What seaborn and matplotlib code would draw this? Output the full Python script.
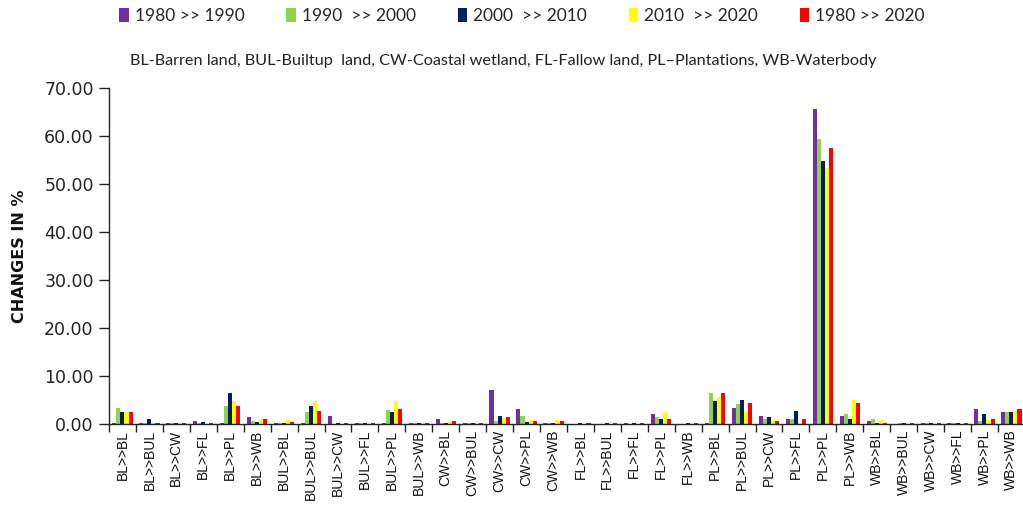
import numpy as np
import pandas as pd
import seaborn as sns
import matplotlib.pyplot as plt
from matplotlib.patches import Patch
from matplotlib.ticker import FixedLocator, FormatStrFormatter

# Land-cover transitions (from >> to)
transitions = [
    "BL>>BL", "BL>>BUL", "BL>>CW", "BL>>FL", "BL>>PL", "BL>>WB",
    "BUL>>BL", "BUL>>BUL", "BUL>>CW", "BUL>>FL", "BUL>>PL", "BUL>>WB",
    "CW>>BL", "CW>>BUL", "CW>>CW", "CW>>PL", "CW>>WB",
    "FL>>BL", "FL>>BUL", "FL>>FL", "FL>>PL", "FL>>WB",
    "PL>>BL", "PL>>BUL", "PL>>CW", "PL>>FL", "PL>>PL", "PL>>WB",
    "WB>>BL", "WB>>BUL", "WB>>CW", "WB>>FL", "WB>>PL", "WB>>WB",
]

periods = ["1980 >> 1990", "1990  >> 2000", "2000  >> 2010", "2010  >> 2020", "1980 >> 2020"]

# Share of area changed (%) per period
chg_1980_1990 = [0.2, 0.3, 0.3, 0.7, 0.2, 1.4, 0.2, 0.2, 1.7, 0.2, 0.2, 0.2,
                 1.0, 0.2, 7.1, 3.05, 0.2, 0.1, 0.1, 0.2, 2.1, 0.1,
                 0.3, 3.3, 1.7, 1.0, 65.6, 1.7, 0.7, 0.1, 0.2, 0.2, 3.05, 2.6]
chg_1990_2000 = [3.3, 0.3, 0.2, 0.2, 3.7, 0.7, 0.2, 2.6, 0.1, 0.2, 3.0, 0.2,
                 0.2, 0.2, 0.7, 1.7, 0.2, 0.1, 0.1, 0.1, 1.4, 0.1,
                 6.4, 4.2, 1.0, 1.0, 59.4, 2.1, 1.0, 0.2, 0.2, 0.2, 0.7, 2.6]
chg_2000_2010 = [2.6, 1.0, 0.3, 0.4, 6.4, 0.35, 0.3, 3.75, 0.3, 0.3, 2.6, 0.3,
                 0.3, 0.3, 1.7, 0.35, 0.3, 0.2, 0.2, 0.2, 1.0, 0.2,
                 4.7, 5.0, 1.4, 2.8, 54.7, 1.0, 0.3, 0.3, 0.3, 0.3, 2.1, 2.4]
chg_2010_2020 = [2.6, 0.3, 0.2, 0.1, 4.7, 1.0, 0.8, 4.7, 0.1, 0.1, 4.7, 0.2,
                 0.6, 0.2, 1.3, 0.8, 0.8, 0.1, 0.1, 0.1, 2.4, 0.1,
                 5.7, 2.4, 0.8, 0.3, 53.3, 4.9, 0.8, 0.1, 0.1, 0.1, 0.8, 2.8]
chg_1980_2020 = [2.6, 0.3, 0.3, 0.2, 3.7, 1.0, 0.35, 2.8, 0.3, 0.3, 3.05, 0.3,
                 0.6, 0.3, 1.4, 0.7, 0.7, 0.2, 0.2, 0.2, 1.0, 0.2,
                 6.4, 4.4, 0.7, 1.0, 57.4, 4.4, 0.3, 0.3, 0.3, 0.3, 1.0, 3.05]

colors = ["#7030A0", "#92D050", "#002060", "#FFFF00", "#FF0000"]

series = [chg_1980_1990, chg_1990_2000, chg_2000_2010, chg_2010_2020, chg_1980_2020]
df = pd.DataFrame({
    "transition": np.tile(transitions, len(periods)),
    "period": np.repeat(periods, len(transitions)),
    "change": np.concatenate(series),
})

sns.set_style("ticks")
plt.rcParams["font.family"] = ["DejaVu Sans"]

fig = plt.figure(figsize=(10.23, 5.22), dpi=100)
ax = fig.add_axes([109 / 1023, 98 / 522, (1023 - 109) / 1023, (424 - 88) / 522])

sns.barplot(data=df, x="transition", y="change", hue="period",
            order=transitions, hue_order=periods, palette=colors,
            width=0.75, saturation=1, linewidth=0, legend=False, ax=ax)

ax.set_xlim(-0.5, 33.43)
ax.set_ylim(0, 70)
ax.set_yticks(np.arange(0, 71, 10))
ax.yaxis.set_major_formatter(FormatStrFormatter("%.2f"))
ax.tick_params(axis="y", direction="out", length=7, width=1, colors="#222222",
               labelsize=12.5, labelcolor="#222222", pad=4)

# Category labels at bar centres, tick marks on the category boundaries
ax.xaxis.set_major_locator(FixedLocator(np.arange(-0.5, len(transitions), 1.0)))
ax.xaxis.set_major_formatter(plt.NullFormatter())
ax.set_xticks(np.arange(len(transitions)), labels=transitions, minor=True)
ax.tick_params(axis="x", which="major", direction="out", length=6, width=1, colors="#222222")
ax.tick_params(axis="x", which="minor", length=0, pad=4)
for lab in ax.get_xticklabels(minor=True):
    lab.set_rotation(90)
    lab.set_fontfamily("Liberation Sans")
    lab.set_fontsize(10)
    lab.set_color("#111111")

ax.set_xlabel("")
ax.set_ylabel("CHANGES IN %", fontsize=11.5, fontweight="bold", color="#111111", labelpad=12)

sns.despine(ax=ax, top=True, right=True)
for side in ("left", "bottom"):
    ax.spines[side].set_color("#222222")
    ax.spines[side].set_linewidth(1)

handles = [Patch(facecolor=c, edgecolor="none") for c in colors]
fig.legend(handles, periods, loc="center", bbox_to_anchor=(522 / 1023, 1 - 16 / 522),
           ncol=5, frameon=False, prop={"family": "Lato", "size": 12.5},
           handlelength=0.55, handleheight=0.9, handletextpad=0.35, columnspacing=2.4)

fig.text(503 / 1023, 1 - 61 / 522,
         "BL-Barren land, BUL-Builtup  land, CW-Coastal wetland, FL-Fallow land, "
         "PL\u2013Plantations, WB-Waterbody",
         ha="center", va="center", family="Lato", fontsize=11.7, color="#222222")

fig.savefig("out.png", dpi=100)
